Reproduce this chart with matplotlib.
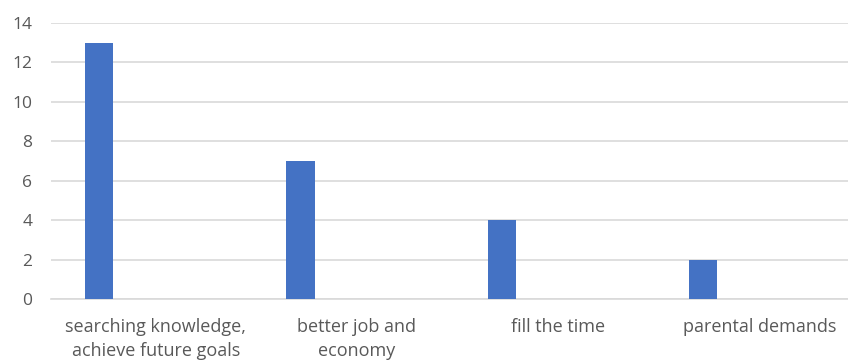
import numpy as np
import matplotlib.pyplot as plt

categories = ["searching knowledge,\nachieve future goals", "better job and\neconomy",
              "fill the time", "parental demands"]
counts = [13, 7, 4, 2]
yticks = [0, 2, 4, 6, 8, 10, 12, 14]

plt.rcParams['font.family'] = ['Open Sans', 'DejaVu Sans']

fig = plt.figure(figsize=(8.48, 3.62), dpi=100)
ax = fig.add_axes([51 / 848, 63 / 362, 805 / 848, 276 / 362])

x = np.arange(len(categories))
ax.bar(x - 0.26, counts, width=0.14, color='#4472C4', zorder=3)

ax.set_xlim(-0.5, len(categories) - 0.5)
ax.set_ylim(0, 14)
ax.set_yticks(yticks)
ax.set_xticks(x + 0.02)
ax.set_xticklabels(categories, fontsize=13, color='#595959', linespacing=1.38)
ax.tick_params(axis='y', labelsize=12.5, labelcolor='#595959', length=0, pad=13.5)
ax.tick_params(axis='x', length=0, pad=14)
ax.yaxis.grid(True, color='#D9D9D9', linewidth=1.2, zorder=0)
for s in ['top', 'right', 'left']:
    ax.spines[s].set_visible(False)
ax.spines['bottom'].set_color('#D9D9D9')
ax.spines['bottom'].set_linewidth(1.2)

fig.savefig('out.png', dpi=100)
